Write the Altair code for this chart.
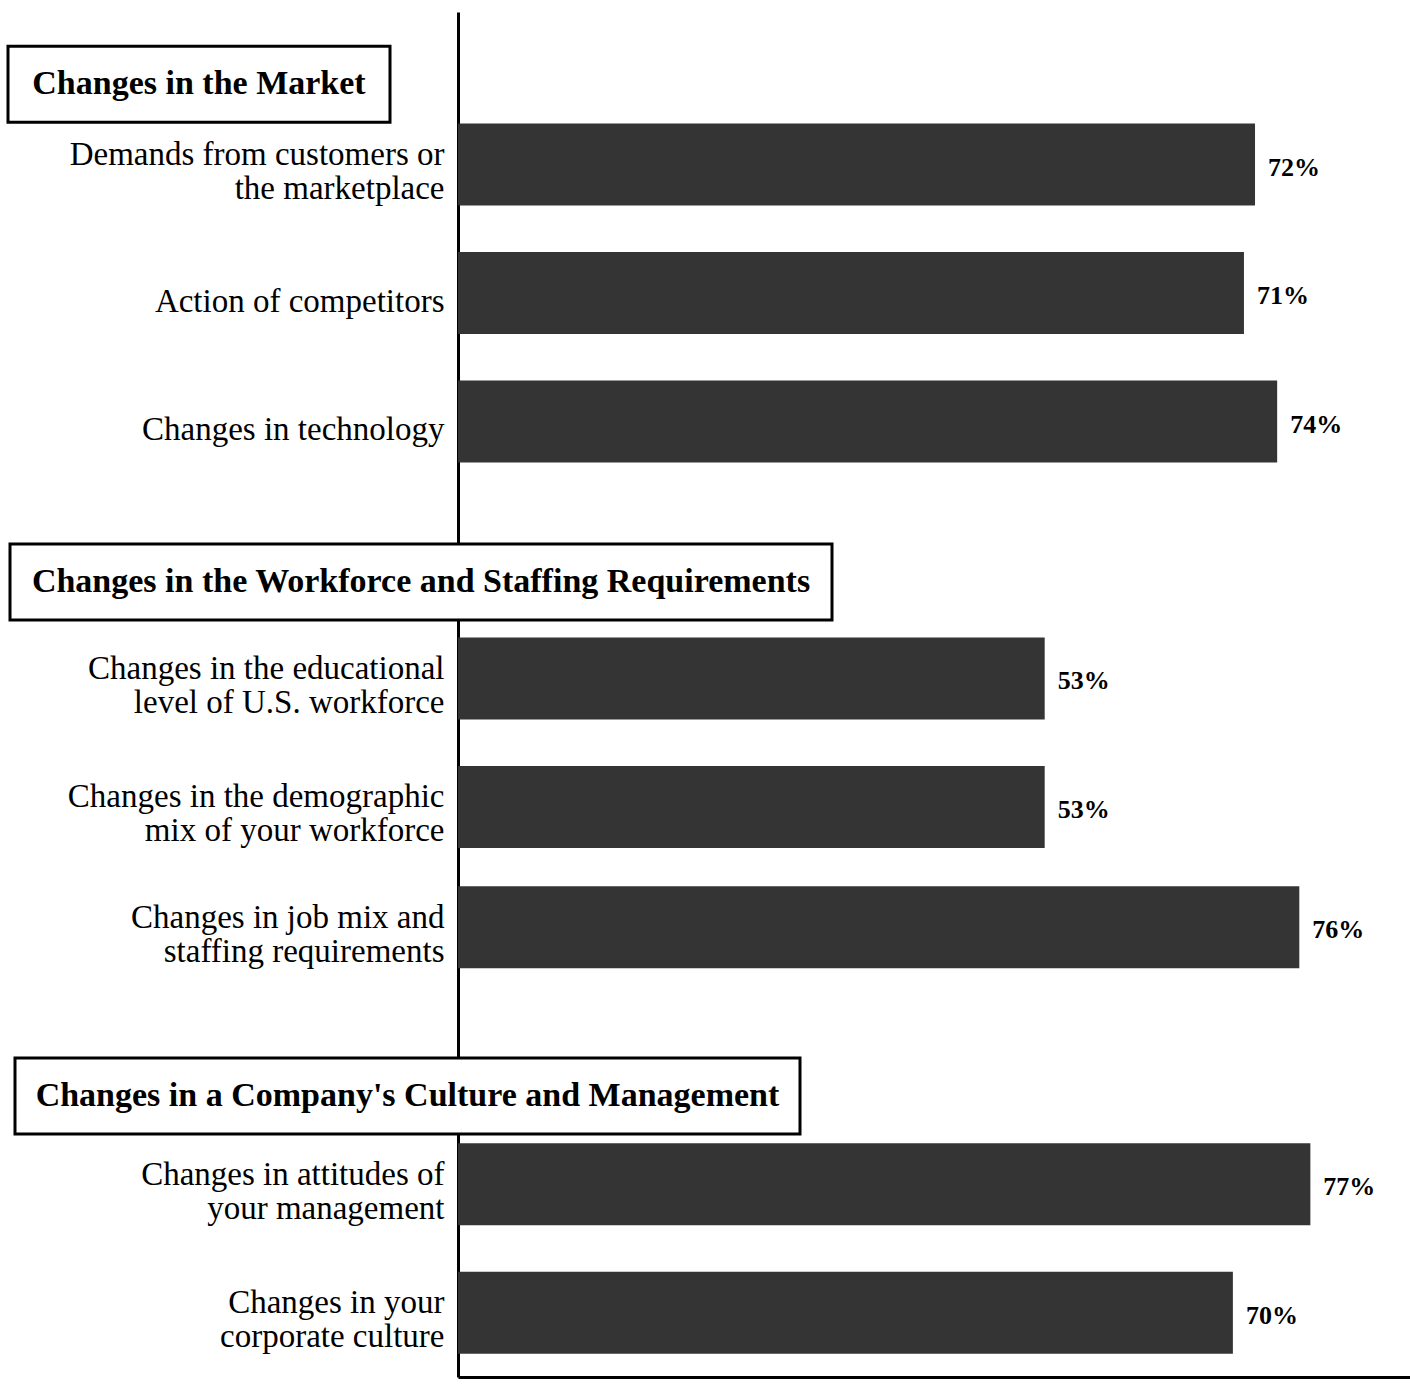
import altair as alt
import pandas as pd

# ---- data ----
headers = [
    "Changes in the Market",
    "Changes in the Workforce and Staffing Requirements",
    "Changes in a Company's Culture and Management",
]
labels = [
    "Demands from customers or|the marketplace",
    "Action of competitors",
    "Changes in technology",
    "Changes in the educational|level of U.S. workforce",
    "Changes in the demographic|mix of your workforce",
    "Changes in job mix and|staffing requirements",
    "Changes in attitudes of|your management",
    "Changes in your|corporate culture",
]
values = [72, 71, 74, 53, 53, 76, 77, 70]
group_index = [0, 0, 0, 1, 1, 1, 2, 2]

# ---- layout of the category axis (point scale with spacer slots) ----
N = 171
LEAD = 9
HEADER_TO_BAR = [10, 12, 11]      # slots from each header to its first bar
BAR_TO_BAR = [[16, 16], [16, 15], [16]]
GROUP_GAP = [20, 21]              # slots from a group's last bar to next header

positions = {}
pos = LEAD
for g, h in enumerate(headers):
    if g > 0:
        pos += GROUP_GAP[g - 1]
    positions[h] = pos
    bars_g = [lab for lab, gi in zip(labels, group_index) if gi == g]
    for k, lab in enumerate(bars_g):
        pos += HEADER_TO_BAR[g] if k == 0 else BAR_TO_BAR[g][k - 1]
        positions[lab] = pos
domain = [f"_{i}" for i in range(N)]
for name, p in positions.items():
    domain[p] = name

SERIF = "Liberation Serif"

df = pd.DataFrame({"label": labels, "value": values})
df["pct"] = df["value"].astype(str) + "%"

yscale = alt.Scale(type="point", domain=domain, padding=0)
yaxis = alt.Axis(
    values=labels, title=None, ticks=False, grid=False,
    domainColor="black", domainWidth=3,
    labelExpr="split(datum.label, '|')",
    labelFont=SERIF, labelFontSize=33, labelLineHeight=34,
    labelColor="black", labelPadding=14, labelLimit=0,
    labelOffset={"condition": {"test": "indexof(datum.label, '|') >= 0", "value": -10},
                 "value": 8},
    labelAlign="right", labelBaseline="middle",
)
xaxis = alt.Axis(
    title=None, labels=False, ticks=False, grid=False,
    domainColor="black", domainWidth=3,
)

bars = alt.Chart(df).mark_bar(size=82, color="#343434").encode(
    y=alt.Y("label:N", scale=yscale, axis=yaxis, sort=None),
    x=alt.X("value:Q", scale=alt.Scale(domain=[0, 86], nice=False), axis=xaxis),
)

value_text = alt.Chart(df).mark_text(
    align="left", baseline="middle", dx=13, dy=3,
    font=SERIF, fontSize=26, fontWeight="bold", color="black",
).encode(
    y=alt.Y("label:N"),
    x=alt.X("value:Q"),
    text="pct:N",
)

# header boxes (left/right edges in pixels relative to the plot's left edge)
box_extent = [(-450, -68), (-448, 374), (-443, 342)]
layers = [bars, value_text]
for h, (x0, x1) in zip(headers, box_extent):
    hdf = pd.DataFrame({"label": [h]})
    box = alt.Chart(hdf).mark_bar(
        size=76, fill="white", stroke="black", strokeWidth=3
    ).encode(y=alt.Y("label:N"), x=alt.value(x0), x2=alt.value(x1))
    txt = alt.Chart(hdf).mark_text(
        align="center", baseline="middle", font=SERIF, fontSize=34,
        fontWeight="bold", color="black",
    ).encode(y=alt.Y("label:N"), x=alt.value((x0 + x1) / 2), text="label:N")
    layers += [box, txt]

chart = alt.layer(*layers).properties(
    width=952,
    height=1365,
    padding={"left": 458, "top": 12, "right": 0, "bottom": 7},
    autosize=alt.AutoSizeParams(type="none"),
    background="white",
).configure_view(stroke=None)

chart.save("out.html", embed_options={"renderer": "svg", "actions": False})
